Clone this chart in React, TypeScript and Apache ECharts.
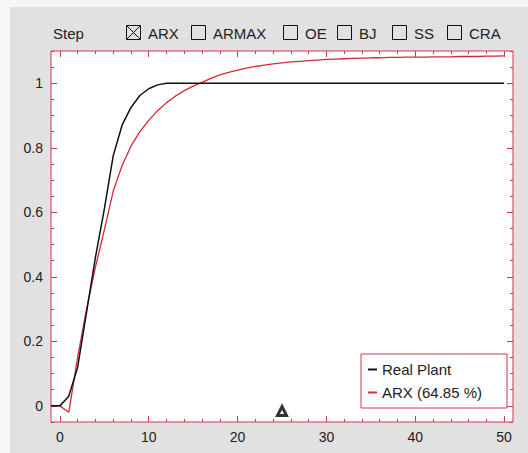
import React, { useEffect, useRef } from "react";
import * as echarts from "echarts";

const time = [-1, 0, 1, 2, 3, 4, 5, 6, 7, 8, 9, 10, 11, 12, 13, 14, 15, 16, 17, 18, 19, 20, 21, 22, 23, 24, 25, 26, 27, 28, 29, 30, 31, 32, 33, 34, 35, 36, 37, 38, 39, 40, 41, 42, 43, 44, 45, 46, 47, 48, 49, 50];
const realPlant = [0, 0, 0.03, 0.12, 0.29, 0.46, 0.61, 0.775, 0.87, 0.925, 0.962, 0.983, 0.995, 1, 1, 1, 1, 1, 1, 1, 1, 1, 1, 1, 1, 1, 1, 1, 1, 1, 1, 1, 1, 1, 1, 1, 1, 1, 1, 1, 1, 1, 1, 1, 1, 1, 1, 1, 1, 1, 1, 1];
const arx = [0, 0, -0.02, 0.15, 0.3, 0.43, 0.545, 0.665, 0.745, 0.805, 0.85, 0.885, 0.915, 0.94, 0.96, 0.977, 0.991, 1.003, 1.015, 1.026, 1.034, 1.041, 1.047, 1.052, 1.056, 1.06, 1.063, 1.066, 1.068, 1.07, 1.072, 1.074, 1.075, 1.076, 1.077, 1.078, 1.079, 1.079, 1.08, 1.08, 1.081, 1.081, 1.081, 1.082, 1.082, 1.082, 1.083, 1.083, 1.083, 1.084, 1.084, 1.085];
const marker = [[25, -0.016]];

const xMajor = [0, 10, 20, 30, 40, 50];
const xMinor = [0, 2, 4, 6, 8, 10, 12, 14, 16, 18, 20, 22, 24, 26, 28, 30, 32, 34, 36, 38, 40, 42, 44, 46, 48, 50];
const yMajor = [0, 0.2, 0.4, 0.6, 0.8, 1];
const yMinor = [-0.05, 0, 0.05, 0.1, 0.15, 0.2, 0.25, 0.3, 0.35, 0.4, 0.45, 0.5, 0.55, 0.6, 0.65, 0.7, 0.75, 0.8, 0.85, 0.9, 0.95, 1, 1.05, 1.1];

const checkboxes = ["ARX", "ARMAX", "OE", "BJ", "SS", "CRA"];
const checked = [true, false, false, false, false, false];
const boxX = [126, 191, 283, 337, 392, 447];

const FONT = "'Liberation Sans', Arial, sans-serif";
const FRAME = "#d0394a";
const RED = "#d4283a";

export default function App() {
  const ref = useRef<HTMLDivElement>(null);
  useEffect(() => {
    const chart = echarts.init(ref.current!, undefined, { renderer: "svg" });
    const mkX = (pos: string, vals: number[], len: number, labels: boolean) => ({
      type: "value",
      position: pos,
      min: -1,
      max: 51,
      axisLine: { show: false, onZero: false },
      splitLine: { show: false },
      axisTick: { show: true, inside: true, length: len, customValues: vals, lineStyle: { color: FRAME } },
      axisLabel: labels
        ? { show: true, customValues: xMajor, color: "#222", fontSize: 14, fontFamily: FONT, margin: 8 }
        : { show: false },
    });
    const mkY = (pos: string, vals: number[], len: number, labels: boolean) => ({
      type: "value",
      position: pos,
      min: -0.05,
      max: 1.1,
      axisLine: { show: false, onZero: false },
      splitLine: { show: false },
      axisTick: { show: true, inside: true, length: len, customValues: vals, lineStyle: { color: FRAME } },
      axisLabel: labels
        ? { show: true, customValues: yMajor, color: "#222", fontSize: 14, fontFamily: FONT, margin: 8 }
        : { show: false },
    });
    const graphics: any[] = [
      { type: "rect", shape: { x: 10, y: 7, width: 518, height: 446 }, style: { fill: "#e1e1e1" }, z: -10 },
    ];
    checkboxes.forEach((name, i) => {
      const x = boxX[i];
      graphics.push({ type: "rect", shape: { x: x + 0.5, y: 25.5, width: 14, height: 14 }, style: { fill: "none", stroke: "#111", lineWidth: 1 } });
      if (checked[i]) {
        graphics.push({ type: "line", shape: { x1: x + 1, y1: 26, x2: x + 14, y2: 39 }, style: { stroke: "#111", lineWidth: 1 } });
        graphics.push({ type: "line", shape: { x1: x + 14, y1: 26, x2: x + 1, y2: 39 }, style: { stroke: "#111", lineWidth: 1 } });
      }
      graphics.push({
        type: "text",
        x: x + 22,
        y: 33,
        style: { text: name, fill: "#222", font: `15px ${FONT}`, textVerticalAlign: "middle", verticalAlign: "middle" },
      });
    });
    chart.setOption({
      animation: false,
      backgroundColor: "#f6f6f6",
      title: { text: "Step", left: 48, top: 21, textStyle: { fontSize: 15, fontWeight: "normal", color: "#222", fontFamily: FONT } },
      graphic: graphics,
      grid: { left: 51, top: 51, width: 462, height: 371, show: true, backgroundColor: "#fff", borderColor: FRAME, borderWidth: 1, containLabel: false },
      legend: {
        orient: "vertical",
        left: 361,
        top: 354,
        padding: [8, 25, 8, 7],
        itemGap: 8,
        itemWidth: 9,
        itemHeight: 2,
        icon: "rect",
        backgroundColor: "#fff",
        borderColor: FRAME,
        borderWidth: 1,
        borderRadius: 0,
        textStyle: { fontSize: 15, fontFamily: FONT, color: "#222" },
        data: ["Real Plant", "ARX (64.85 %)"],
      },
      xAxis: [mkX("bottom", xMajor, 6, true), mkX("bottom", xMinor, 3, false), mkX("top", xMajor, 6, false), mkX("top", xMinor, 3, false)],
      yAxis: [mkY("left", yMajor, 6, true), mkY("left", yMinor, 3, false), mkY("right", yMajor, 6, false), mkY("right", yMinor, 3, false)],
      series: [
        {
          name: "Real Plant",
          type: "line",
          data: time.map((t, i) => [t, realPlant[i]]),
          showSymbol: false,
          lineStyle: { color: "#111", width: 1.5 },
          itemStyle: { color: "#111" },
          z: 3,
        },
        {
          name: "ARX (64.85 %)",
          type: "line",
          data: time.map((t, i) => [t, arx[i]]),
          showSymbol: false,
          lineStyle: { color: RED, width: 1.3 },
          itemStyle: { color: RED },
          z: 2,
        },
        {
          name: "marker",
          type: "scatter",
          data: marker,
          symbol: "triangle",
          symbolSize: 9,
          itemStyle: { color: "#fff", borderColor: "#000", borderWidth: 3 },
          z: 4,
        },
      ],
    });
    return () => chart.dispose();
  }, []);
  return <div ref={ref} style={{ position: "fixed", left: 0, top: 0, width: 528, height: 453 }} />;
}
